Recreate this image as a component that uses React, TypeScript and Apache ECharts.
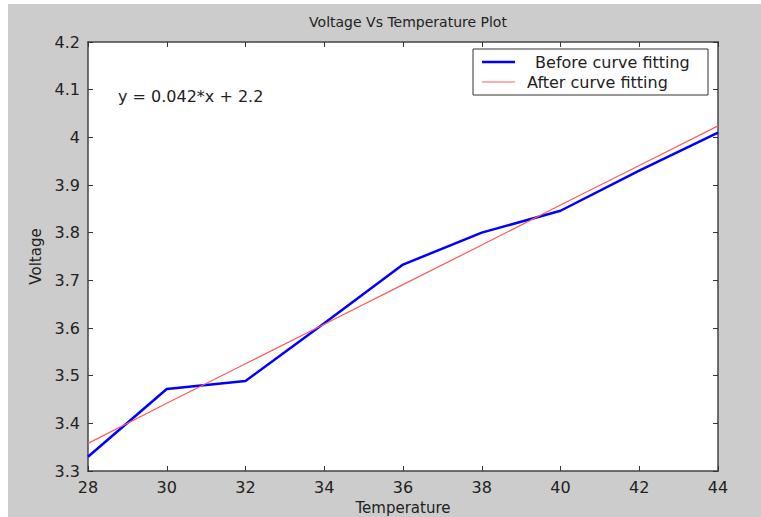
import React, { useEffect, useRef } from "react";
import * as echarts from "echarts";

const temperature = [28, 30, 32, 34, 36, 38, 40, 42, 44];
const voltageBefore = [3.33, 3.472, 3.489, 3.61, 3.733, 3.8, 3.846, 3.93, 4.01];
const voltageAfter = [3.358, 3.442, 3.525, 3.608, 3.691, 3.774, 3.858, 3.941, 4.024];
const seriesNames = [" Before curve fitting", "After curve fitting"];
const titleText = "Voltage Vs Temperature Plot";
const xName = "Temperature";
const yName = "Voltage";
const equation = "y = 0.042*x + 2.2";

const FONT = "DejaVu Sans, Verdana, sans-serif";

export default function App() {
  const ref = useRef<HTMLDivElement>(null);
  useEffect(() => {
    if (!ref.current) return;
    const chart = echarts.init(ref.current, null, { renderer: "svg" });
    const tickCommon = { show: true, inside: true, length: 5, lineStyle: { color: "#333", width: 1 } };
    const lineCommon = { show: true, lineStyle: { color: "#444", width: 1.5 } };
    chart.setOption({
      animation: false,
      backgroundColor: "transparent",
      title: {
        text: titleText,
        left: 403,
        top: 10,
        textAlign: "center",
        textStyle: { fontSize: 14, fontWeight: "normal", color: "#222", fontFamily: FONT },
      },
      grid: {
        left: 88,
        right: 43,
        top: 42,
        bottom: 46,
        show: true,
        backgroundColor: "#ffffff",
        borderWidth: 0,
        containLabel: false,
        outerBoundsMode: "none",
      },
      xAxis: [
        {
          type: "value",
          min: 28,
          max: 44,
          interval: 2,
          position: "bottom",
          axisLine: lineCommon,
          axisTick: tickCommon,
          splitLine: { show: false },
          axisLabel: { fontSize: 16, color: "#222", fontFamily: FONT, margin: 8 },
          name: xName,
          nameLocation: "middle",
          nameGap: 29,
          nameTextStyle: { fontSize: 15, color: "#222", fontFamily: FONT },
        },
        {
          type: "value",
          min: 28,
          max: 44,
          interval: 2,
          position: "top",
          axisLine: lineCommon,
          axisTick: tickCommon,
          splitLine: { show: false },
          axisLabel: { show: false },
        },
      ],
      yAxis: [
        {
          type: "value",
          min: 3.3,
          max: 4.2,
          interval: 0.1,
          position: "left",
          axisLine: lineCommon,
          axisTick: tickCommon,
          splitLine: { show: false },
          axisLabel: {
            fontSize: 16,
            color: "#222",
            fontFamily: FONT,
            margin: 8,
            formatter: (v: number) => String(+v.toFixed(1)),
          },
          name: yName,
          nameLocation: "middle",
          nameGap: 41,
          nameTextStyle: { fontSize: 15, color: "#222", fontFamily: FONT },
        },
        {
          type: "value",
          min: 3.3,
          max: 4.2,
          interval: 0.1,
          position: "right",
          axisLine: lineCommon,
          axisTick: tickCommon,
          splitLine: { show: false },
          axisLabel: { show: false },
        },
      ],
      series: [
        {
          name: seriesNames[0],
          type: "line",
          xAxisIndex: 0,
          yAxisIndex: 0,
          data: temperature.map((t, i) => [t, voltageBefore[i]]),
          showSymbol: false,
          lineStyle: { color: "#0000ff", width: 2.5 },
          z: 3,
        },
        {
          name: seriesNames[1],
          type: "line",
          xAxisIndex: 0,
          yAxisIndex: 0,
          data: temperature.map((t, i) => [t, voltageAfter[i]]),
          showSymbol: false,
          lineStyle: { color: "#ff5a5a", width: 1.2 },
          z: 4,
        },
      ],
      graphic: [
        {
          type: "text",
          x: 118,
          y: 96,
          style: { text: equation, fontSize: 16, fill: "#222", fontFamily: FONT, verticalAlign: "middle" },
        },
        {
          type: "rect",
          shape: { x: 473, y: 49, width: 235, height: 46 },
          style: { fill: "#ffffff", stroke: "#333", lineWidth: 1 },
          z: 10,
        },
        {
          type: "line",
          shape: { x1: 482, y1: 62, x2: 515, y2: 62 },
          style: { stroke: "#0000ff", lineWidth: 2.5 },
          z: 11,
        },
        {
          type: "line",
          shape: { x1: 482, y1: 82, x2: 515, y2: 82 },
          style: { stroke: "#ff5a5a", lineWidth: 1.2 },
          z: 11,
        },
        {
          type: "text",
          x: 530,
          y: 62,
          style: { text: seriesNames[0], fontSize: 16, fill: "#222", fontFamily: FONT, verticalAlign: "middle" },
          z: 11,
        },
        {
          type: "text",
          x: 527,
          y: 82,
          style: { text: seriesNames[1], fontSize: 16, fill: "#222", fontFamily: FONT, verticalAlign: "middle" },
          z: 11,
        },
      ],
    });
    return () => chart.dispose();
  }, []);

  return (
    <div style={{ position: "absolute", left: 0, top: 0, width: 761, height: 517, background: "#ffffff" }}>
      <div style={{ position: "absolute", left: 8, top: 4, width: 753, height: 513, background: "#cccccc" }} />
      <div ref={ref} style={{ position: "absolute", left: 0, top: 0, width: 761, height: 517 }} />
    </div>
  );
}
